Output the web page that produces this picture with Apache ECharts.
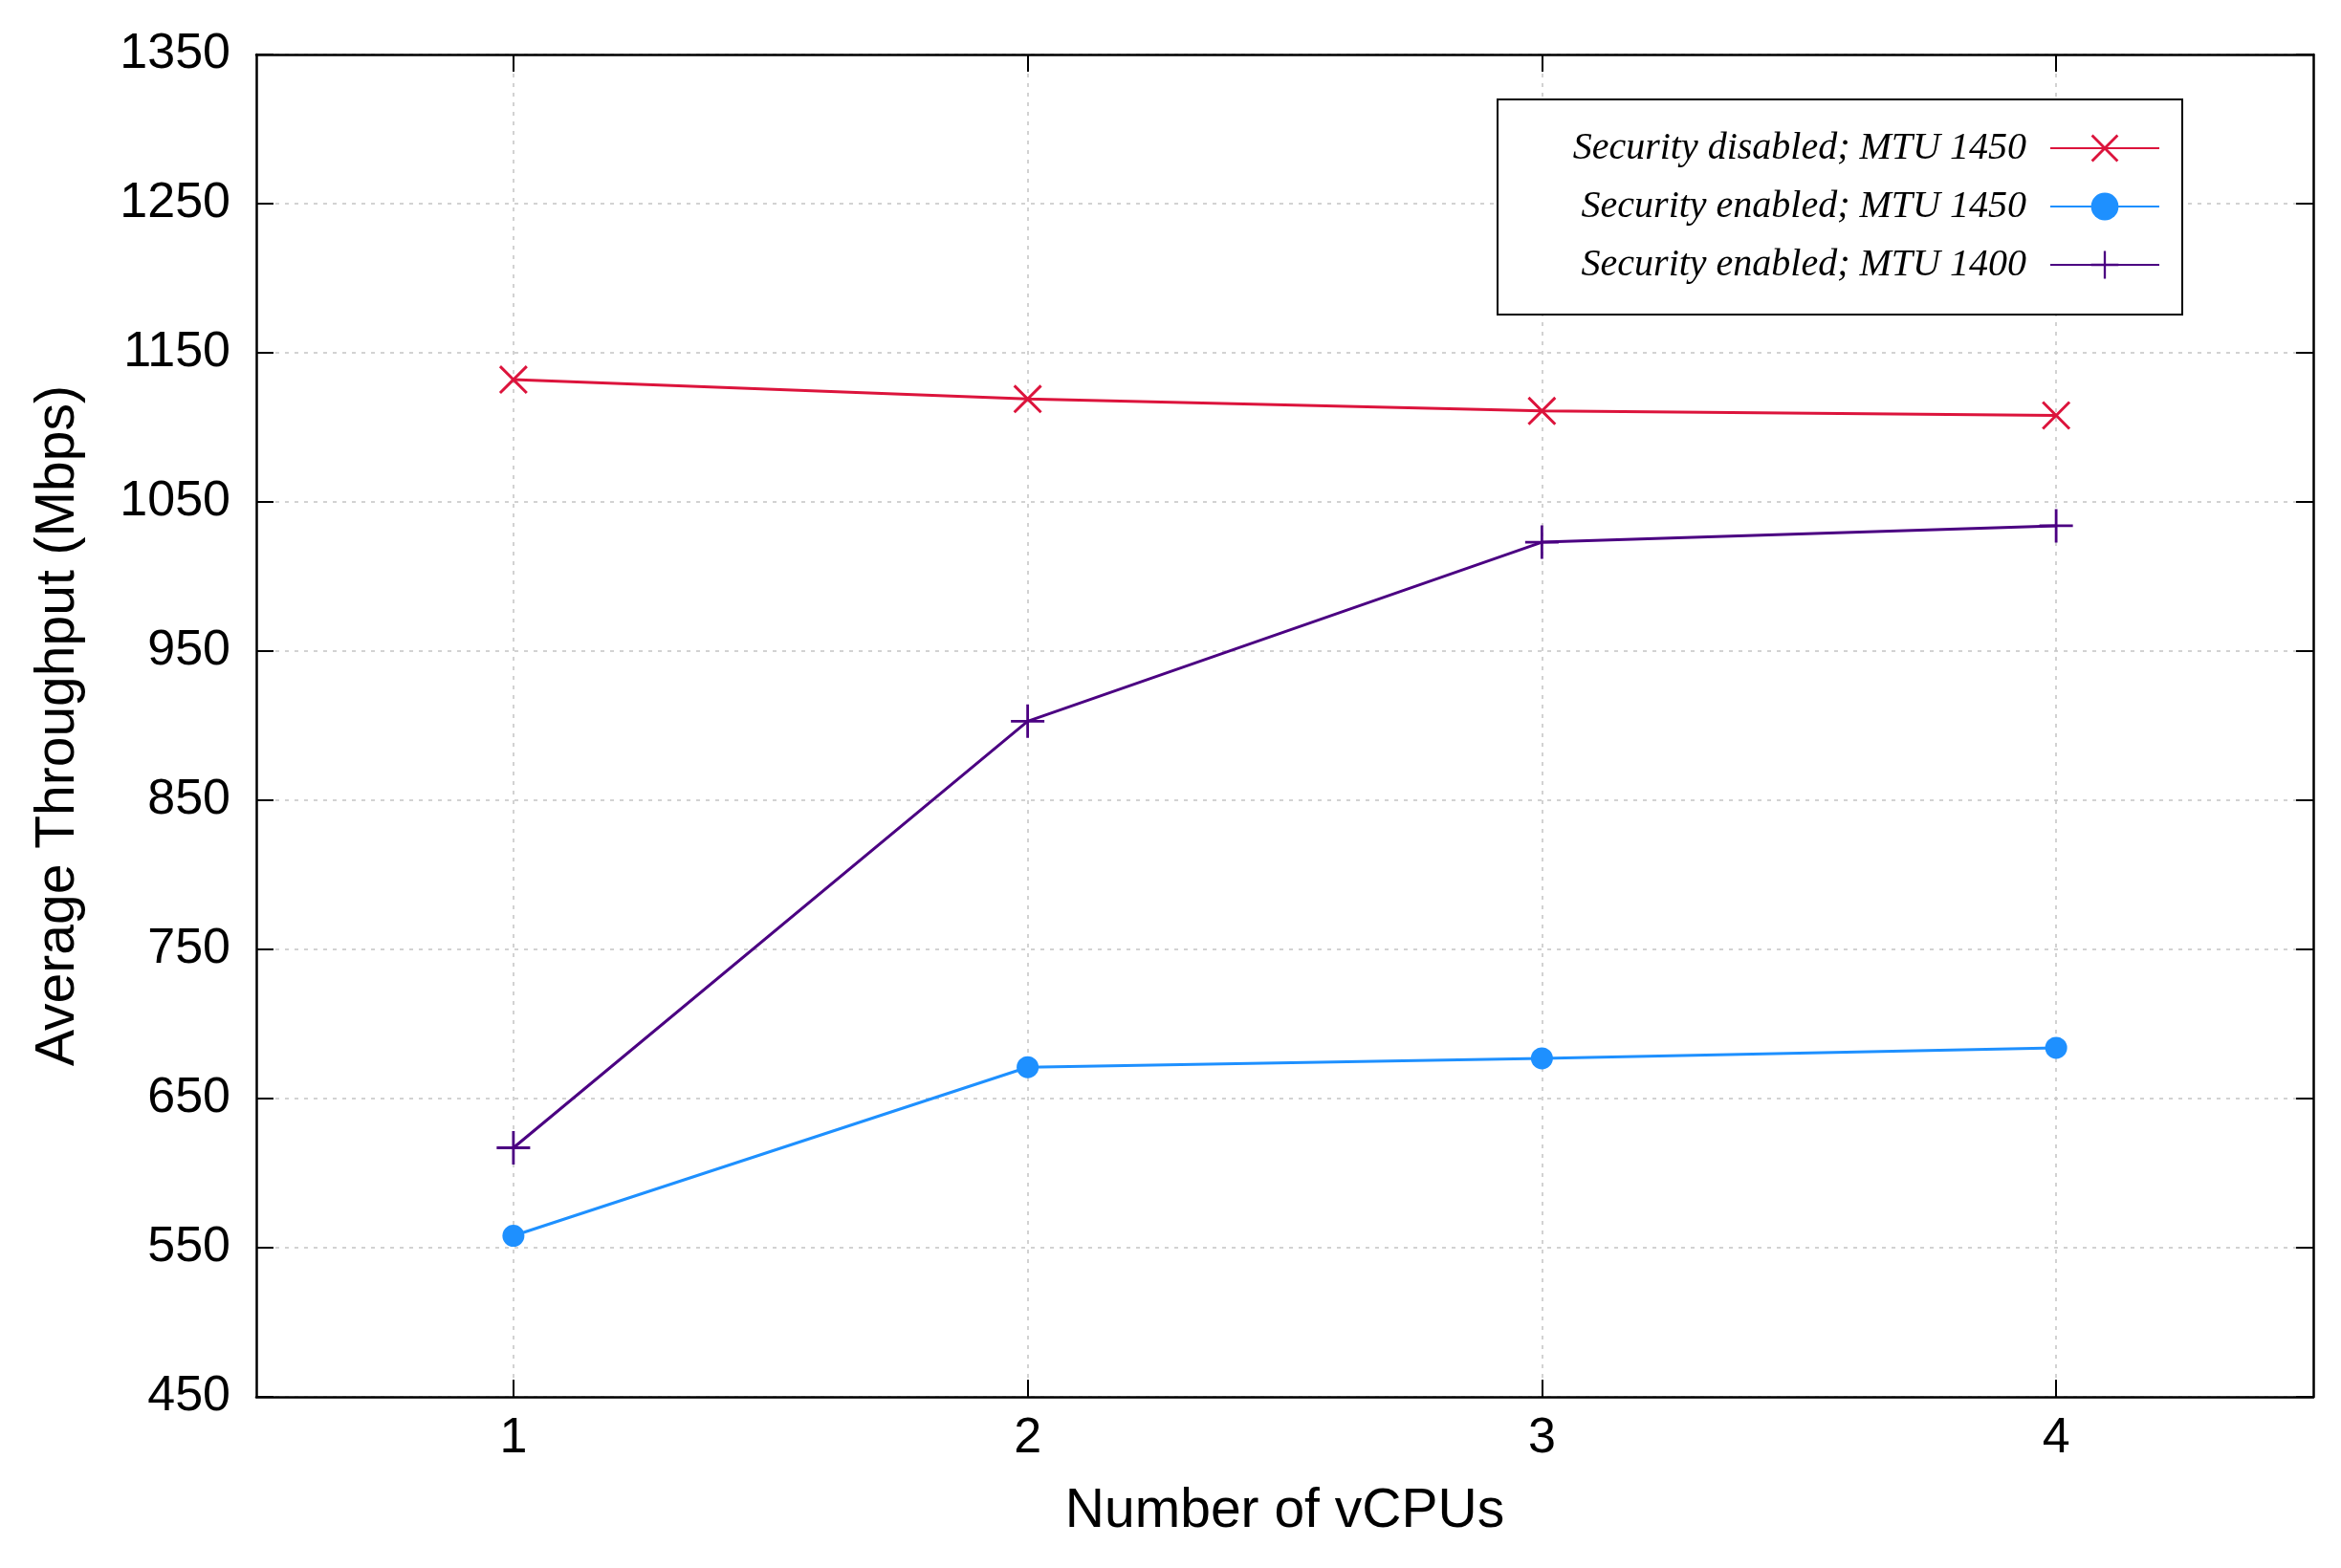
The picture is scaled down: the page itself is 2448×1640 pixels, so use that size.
<!DOCTYPE html>
<html>
<head>
<meta charset="utf-8">
<script src="https://cdn.jsdelivr.net/npm/echarts@6/dist/echarts.min.js"></script>
<style>html,body{margin:0;padding:0;background:#fff}#c{width:2448px;height:1640px}</style>
</head>
<body>
<div id="c"></div>
<script>
const vcpus = [1, 2, 3, 4];
const xTicks = [1, 2, 3, 4];
const secDisabled1450 = [1132, 1119, 1111, 1108];
const secEnabled1450 = [558, 671, 677, 684];
const secEnabled1400 = [617, 903, 1023, 1034];
const seriesNames = ['Security disabled; MTU 1450', 'Security enabled; MTU 1450', 'Security enabled; MTU 1400'];

const X_PATH = 'path://M0,7 L7,0 L50,43 L93,0 L100,7 L57,50 L100,93 L93,100 L50,57 L7,100 L0,93 L43,50 Z';
const PLUS_PATH = 'path://M46,0 L54,0 L54,46 L100,46 L100,54 L54,54 L54,100 L46,100 L46,54 L0,54 L0,46 L46,46 Z';

const pairs = vals => vcpus.map((v, i) => [v, vals[i]]);

const axisLineStyle = { show: true, lineStyle: { color: '#000', width: 2.5 } };
const tickStyle = { show: true, inside: true, length: 18, lineStyle: { color: '#000', width: 2 } };
const gridLine = { show: true, lineStyle: { color: '#c4c4c4', width: 1.5, type: [4, 6] } };
const labelFont = { fontFamily: 'Liberation Sans', fontSize: 52, color: '#000' };

const chart = echarts.init(document.getElementById('c'), null, { renderer: 'canvas' });
chart.setOption({
  backgroundColor: '#fff',
  animation: false,
  grid: { left: 268, right: 29, top: 57, bottom: 179, containLabel: false },
  legend: {
    orient: 'vertical',
    left: 1566, top: 104,
    align: 'right',
    backgroundColor: '#fff',
    borderColor: '#000', borderWidth: 2,
    padding: [31, 23, 32, 53],
    itemWidth: 114, itemHeight: 36, itemGap: 21,
    data: seriesNames,
    textStyle: {
      fontFamily: 'Liberation Serif', fontStyle: 'italic', fontSize: 40, color: '#000',
      width: 500, align: 'right', lineHeight: 40, padding: [0, 20, 0, 0]
    }
  },
  xAxis: [{
    type: 'value', min: 0.5, max: 4.5, position: 'bottom',
    name: 'Number of vCPUs', nameLocation: 'middle', nameGap: 92,
    nameTextStyle: { fontFamily: 'Liberation Sans', fontSize: 57, color: '#000' },
    axisLine: axisLineStyle,
    axisTick: Object.assign({ customValues: xTicks }, tickStyle),
    axisLabel: Object.assign({ customValues: xTicks, margin: 18, formatter: v => String(v) }, labelFont),
    splitLine: gridLine
  }, {
    type: 'value', min: 0.5, max: 4.5, position: 'top',
    axisLine: axisLineStyle,
    axisTick: Object.assign({ customValues: xTicks }, tickStyle),
    axisLabel: { show: false, customValues: xTicks },
    splitLine: { show: false }
  }],
  yAxis: [{
    type: 'value', min: 450, max: 1350, interval: 100, position: 'left',
    name: 'Average Throughput (Mbps)', nameLocation: 'middle', nameGap: 178,
    nameTextStyle: { fontFamily: 'Liberation Sans', fontSize: 57, color: '#000' },
    axisLine: axisLineStyle,
    axisTick: tickStyle,
    axisLabel: Object.assign({ margin: 27, formatter: v => String(v) }, labelFont),
    splitLine: gridLine
  }, {
    type: 'value', min: 450, max: 1350, interval: 100, position: 'right',
    axisLine: axisLineStyle,
    axisTick: tickStyle,
    axisLabel: { show: false },
    splitLine: { show: false }
  }],
  series: [{
    name: seriesNames[0], type: 'line', data: pairs(secDisabled1450),
    symbol: X_PATH, symbolSize: 30,
    itemStyle: { color: '#DC143C' }, lineStyle: { color: '#DC143C', width: 3 }
  }, {
    name: seriesNames[1], type: 'line', data: pairs(secEnabled1450),
    symbol: 'circle', symbolSize: 23,
    itemStyle: { color: '#1E90FF' }, lineStyle: { color: '#1E90FF', width: 3 }
  }, {
    name: seriesNames[2], type: 'line', data: pairs(secEnabled1400),
    symbol: PLUS_PATH, symbolSize: 35,
    itemStyle: { color: '#4B0082' }, lineStyle: { color: '#4B0082', width: 3 }
  }]
});
</script>
</body>
</html>
